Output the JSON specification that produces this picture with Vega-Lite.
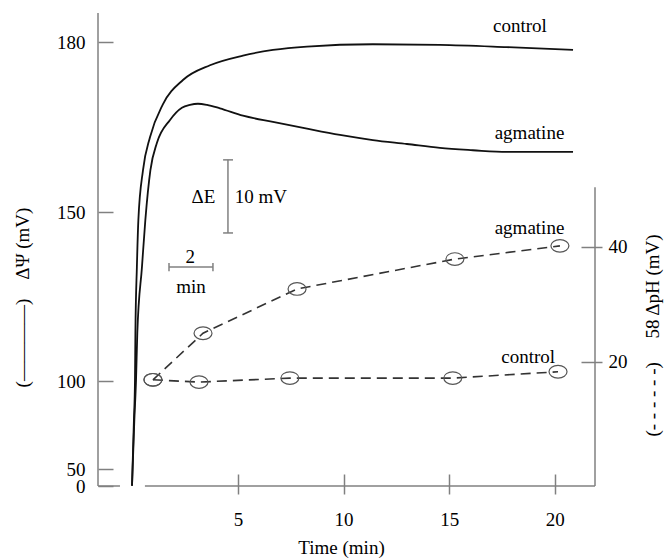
{
  "$schema": "https://vega.github.io/schema/vega-lite/v6.json",
  "width": 497,
  "height": 473,
  "autosize": {"type": "none"},
  "padding": {"left": 98, "top": 13, "right": 69, "bottom": 72},
  "background": "white",
  "config": {
    "view": {"stroke": null},
    "font": "Liberation Serif",
    "text": {"font": "Liberation Serif", "fontSize": 19, "color": "#000"},
    "axis": {
      "grid": false,
      "domain": false,
      "labelFont": "Liberation Serif",
      "labelFontSize": 19,
      "labelColor": "#000",
      "labelOverlap": false,
      "labelFlush": false,
      "labelBound": false,
      "titleFont": "Liberation Serif",
      "titleFontSize": 19,
      "titleFontWeight": "normal",
      "titleColor": "#000",
      "tickColor": "#808080",
      "tickWidth": 1.5
    }
  },
  "datasets": {
    "psi": [
      {"series": "control", "t": -0.01, "v": 1},
      {"series": "control", "t": 0.08, "v": 77.8},
      {"series": "control", "t": 0.13, "v": 100.3},
      {"series": "control", "t": 0.15, "v": 114.2},
      {"series": "control", "t": 0.22, "v": 133.7},
      {"series": "control", "t": 0.29, "v": 147.6},
      {"series": "control", "t": 0.51, "v": 157.4},
      {"series": "control", "t": 0.84, "v": 163.2},
      {"series": "control", "t": 1.45, "v": 169.0},
      {"series": "control", "t": 2.4, "v": 173.3},
      {"series": "control", "t": 3.68, "v": 175.9},
      {"series": "control", "t": 5.24, "v": 177.6},
      {"series": "control", "t": 6.66, "v": 178.6},
      {"series": "control", "t": 8.27, "v": 179.2},
      {"series": "control", "t": 11.39, "v": 179.6},
      {"series": "control", "t": 14.56, "v": 179.5},
      {"series": "control", "t": 17.73, "v": 179.1},
      {"series": "control", "t": 20.86, "v": 178.6},
      {"series": "agmatine", "t": -0.01, "v": 1},
      {"series": "agmatine", "t": 0.1, "v": 77.8},
      {"series": "agmatine", "t": 0.18, "v": 100.3},
      {"series": "agmatine", "t": 0.24, "v": 114.2},
      {"series": "agmatine", "t": 0.46, "v": 133.7},
      {"series": "agmatine", "t": 0.62, "v": 147.6},
      {"series": "agmatine", "t": 0.86, "v": 157.4},
      {"series": "agmatine", "t": 1.17, "v": 162.2},
      {"series": "agmatine", "t": 1.78, "v": 166.2},
      {"series": "agmatine", "t": 2.35, "v": 168.4},
      {"series": "agmatine", "t": 2.73, "v": 168.9},
      {"series": "agmatine", "t": 3.11, "v": 169.1},
      {"series": "agmatine", "t": 3.54, "v": 168.9},
      {"series": "agmatine", "t": 4.15, "v": 168.3},
      {"series": "agmatine", "t": 5.24, "v": 167.0},
      {"series": "agmatine", "t": 6.66, "v": 165.9},
      {"series": "agmatine", "t": 8.27, "v": 164.7},
      {"series": "agmatine", "t": 9.83, "v": 163.6},
      {"series": "agmatine", "t": 11.39, "v": 162.7},
      {"series": "agmatine", "t": 13.0, "v": 162.0},
      {"series": "agmatine", "t": 14.56, "v": 161.3},
      {"series": "agmatine", "t": 16.12, "v": 160.9},
      {"series": "agmatine", "t": 17.73, "v": 160.6},
      {"series": "agmatine", "t": 20.86, "v": 160.6}
    ],
    "psiRules": [
      {"t": -1.62, "t2": -1.62, "v": 0, "v2": 185.1},
      {"t": -1.62, "t2": -0.58, "v": 0, "v2": 0},
      {"t": 0.6, "t2": 21.9, "v": 0, "v2": 0},
      {"t": 4.53, "t2": 4.53, "v": 143.8, "v2": 159.2},
      {"t": 4.3, "t2": 4.77, "v": 143.8, "v2": 143.8},
      {"t": 4.3, "t2": 4.77, "v": 159.2, "v2": 159.2},
      {"t": 1.74, "t2": 3.82, "v": 133.7, "v2": 133.7},
      {"t": 1.74, "t2": 1.74, "v": 132.5, "v2": 134.9},
      {"t": 3.82, "t2": 3.82, "v": 132.5, "v2": 134.9}
    ],
    "psiText": [
      {"t": 18.35, "v": 182.8, "label": "control"},
      {"t": 18.8, "v": 163.9, "label": "agmatine"},
      {"t": 3.37, "v": 152.6, "label": "ΔE"},
      {"t": 6.09, "v": 152.6, "label": "10 mV"},
      {"t": 2.74, "v": 136.7, "label": "2"},
      {"t": 2.78, "v": 127.8, "label": "min"}
    ],
    "ph": [
      {"series": "agmatine", "t": 0.98, "v": 16.9},
      {"series": "agmatine", "t": 3.35, "v": 25.0},
      {"series": "agmatine", "t": 7.8, "v": 32.7},
      {"series": "agmatine", "t": 15.27, "v": 37.9},
      {"series": "agmatine", "t": 20.24, "v": 40.2},
      {"series": "control", "t": 0.98, "v": 16.9},
      {"series": "control", "t": 3.16, "v": 16.5},
      {"series": "control", "t": 7.46, "v": 17.2},
      {"series": "control", "t": 15.17, "v": 17.2},
      {"series": "control", "t": 20.15, "v": 18.3}
    ],
    "phRules": [
      {"t": 21.9, "t2": 21.9, "v": -1.57, "v2": 50.4}
    ],
    "phText": [
      {"t": 18.8, "v": 43.3, "label": "agmatine"},
      {"t": 18.74, "v": 20.9, "label": "control"}
    ]
  },
  "resolve": {"scale": {"y": "independent"}},
  "layer": [
    {
      "encoding": {
        "x": {
          "field": "t",
          "type": "quantitative",
          "scale": {"domain": [-1.62, 21.9], "nice": false, "zero": false},
          "axis": {
            "values": [5, 10, 15, 20],
            "format": "d",
            "offset": -12,
            "tickSize": 20,
            "labelPadding": 16,
            "title": "Time (min)",
            "titleX": 243,
            "titleY": 73,
            "titleAlign": "center",
            "titleBaseline": "middle"
          }
        },
        "y": {
          "field": "v",
          "type": "quantitative",
          "scale": {"domain": [0, 50, 100, 150, 180, 185.1], "range": [473, 456, 368, 199, 29, 0], "nice": false, "zero": false},
          "axis": {
            "orient": "left",
            "values": [0, 50, 100, 150, 180],
            "format": "d",
            "offset": -15,
            "tickSize": 15,
            "labelPadding": 13,
            "title": "(————)\u00a0\u00a0\u00a0\u00a0ΔΨ (mV)",
            "titleAngle": -90,
            "titleX": -91,
            "titleY": 284,
            "titleAlign": "center",
            "titleBaseline": "middle"
          }
        }
      },
      "layer": [
        {
          "data": {"name": "psi"},
          "mark": {"type": "line", "interpolate": "monotone", "color": "#111", "strokeWidth": 1.8},
          "encoding": {"detail": {"field": "series", "type": "nominal"}}
        },
        {
          "data": {"name": "psiRules"},
          "mark": {"type": "rule", "color": "#808080", "strokeWidth": 1.5},
          "encoding": {"x2": {"field": "t2"}, "y2": {"field": "v2"}}
        },
        {
          "data": {"name": "psiText"},
          "mark": {"type": "text"},
          "encoding": {"text": {"field": "label", "type": "nominal"}}
        }
      ]
    },
    {
      "encoding": {
        "x": {"field": "t", "type": "quantitative"},
        "y": {
          "field": "v",
          "type": "quantitative",
          "scale": {"domain": [-1.57, 80.7], "nice": false, "zero": false},
          "axis": {
            "orient": "right",
            "values": [20, 40],
            "format": "d",
            "offset": -14,
            "tickSize": 21,
            "labelPadding": 6,
            "title": "(- - - - - -)\u00a0\u00a0\u00a0\u00a0\u00a058 ΔpH (mV)",
            "titleAngle": -90,
            "titleX": 71,
            "titleY": 322,
            "titleAlign": "center",
            "titleBaseline": "middle"
          }
        }
      },
      "layer": [
        {
          "data": {"name": "ph"},
          "mark": {"type": "line", "color": "#333", "strokeWidth": 1.6, "strokeDash": [10, 6]},
          "encoding": {"detail": {"field": "series", "type": "nominal"}}
        },
        {
          "data": {"name": "ph"},
          "mark": {"type": "point", "shape": "M-1,0A1,0.7,0,1,1,1,0A1,0.7,0,1,1,-1,0Z", "size": 324, "filled": false, "stroke": "#555", "strokeWidth": 1.2, "opacity": 1},
          "encoding": {"detail": {"field": "series", "type": "nominal"}}
        },
        {
          "data": {"name": "phRules"},
          "mark": {"type": "rule", "color": "#808080", "strokeWidth": 1.5},
          "encoding": {"x2": {"field": "t2"}, "y2": {"field": "v2"}}
        },
        {
          "data": {"name": "phText"},
          "mark": {"type": "text"},
          "encoding": {"text": {"field": "label", "type": "nominal"}}
        }
      ]
    }
  ]
}
